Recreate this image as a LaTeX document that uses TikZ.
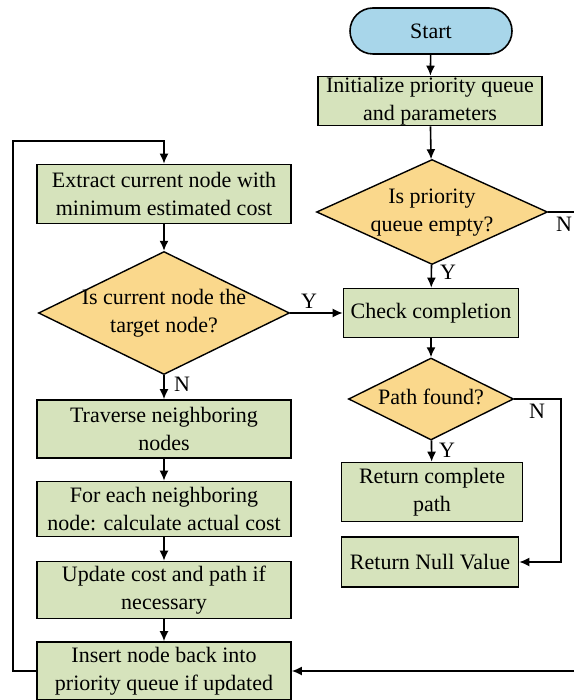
\documentclass[tikz,border=0pt]{standalone}
\usepackage{fontspec}
\setmainfont{Liberation Serif}
\usetikzlibrary{shapes.geometric,arrows.meta}

\definecolor{boxgreen}{RGB}{214,227,188}
\definecolor{askyellow}{RGB}{250,216,140}
\definecolor{startblue}{RGB}{168,214,234}

% text of a decision, kept out of the diamond's size
\newcommand{\asktext}[1]{\makebox[0pt]{\smash{\raisebox{-0.25em}{\begin{tabular}{@{}c@{}}#1\end{tabular}}}}}

\begin{document}
\begin{tikzpicture}[x=1pt,y=-1pt,
    font=\rmfamily\fontsize{22}{28}\selectfont,
    link/.style={line width=1.6pt,-{Latex[length=10pt,width=9pt]}},
    wire/.style={line width=1.6pt},
    box/.style={draw,line width=1.6pt,fill=boxgreen,align=center,inner sep=0pt,minimum width=254pt},
    ask/.style={draw,line width=1.4pt,fill=askyellow,diamond,inner sep=0pt},
    terminal/.style={draw,line width=1.6pt,fill=startblue,rounded corners=23pt,minimum width=162pt,minimum height=46pt},
    lbl/.style={inner sep=0pt}]
    \path[use as bounding box] (0,0) rectangle (574,700);

    % right column
    \node[terminal] (start) at (431,31) {Start};
    \node[box,minimum width=224pt,minimum height=49pt] (init) at (430,101) {Initialize priority queue\\and parameters};
    \node[ask,minimum width=231pt,minimum height=105pt] (empty) at (432,212) {\asktext{Is priority\\queue empty?}};
    \node[box,minimum width=175pt,minimum height=49pt] (check) at (431,313) {Check completion};
    \node[ask,minimum width=165pt,minimum height=82pt] (found) at (431,399) {\asktext{Path found?}};
    \node[box,minimum width=181pt,minimum height=59pt] (retpath) at (432,492) {Return complete\\path};
    \node[box,minimum width=177pt,minimum height=50pt] (retnull) at (430,562) {Return Null Value};

    % left column
    \node[box,minimum height=59pt] (extract) at (164,194) {Extract current node with\\minimum estimated cost};
    \node[ask,minimum width=251pt,minimum height=123pt] (target) at (164,313) {\asktext{Is current node the\\target node?}};
    \node[box,minimum height=58pt] (traverse) at (164,429) {Traverse neighboring\\nodes};
    \node[box,minimum height=55pt] (calc) at (164,509) {For each neighboring\\node: calculate actual cost};
    \node[box,minimum height=57pt] (update) at (164,590) {Update cost and path if\\necessary};
    \node[box,minimum height=58pt] (insert) at (164,671) {Insert node back into\\priority queue if updated};

    \coordinate (emptyOut) at (574,212);
    \coordinate (backIn) at (574,671);
    \coordinate (foundR) at (561,399);
    \coordinate (loopB) at (13,671);
    \coordinate (loopT) at (13,141);

    \draw[link] (start) -- (init);
    \draw[link] (init) -- (empty);
    \draw[link] (empty) -- (check);
    \draw[wire] (empty.east) -- (emptyOut);
    \draw[link] (check) -- (found);
    \draw[link] (found) -- (retpath);
    \draw[link] (found.east) -- (foundR) |- (retnull.east);

    \draw[link] (extract) -- (target);
    \draw[link] (target.east) -- (check.west);
    \draw[link] (target) -- (traverse);
    \draw[link] (traverse) -- (calc);
    \draw[link] (calc) -- (update);
    \draw[link] (update) -- (insert);
    \draw[link] (insert.west) -- (loopB) -- (loopT) -| (extract.north);
    \draw[link] (backIn) -- (insert.east);

    \node[lbl] (nEmpty) at (564,224) {N};
    \node[lbl] (yEmpty) at (448,272) {Y};
    \node[lbl] (yTarget) at (309,301) {Y};
    \node[lbl] (nTarget) at (182,384) {N};
    \node[lbl] (nFound) at (537,411) {N};
    \node[lbl] (yFound) at (447,450) {Y};
\end{tikzpicture}
\end{document}
